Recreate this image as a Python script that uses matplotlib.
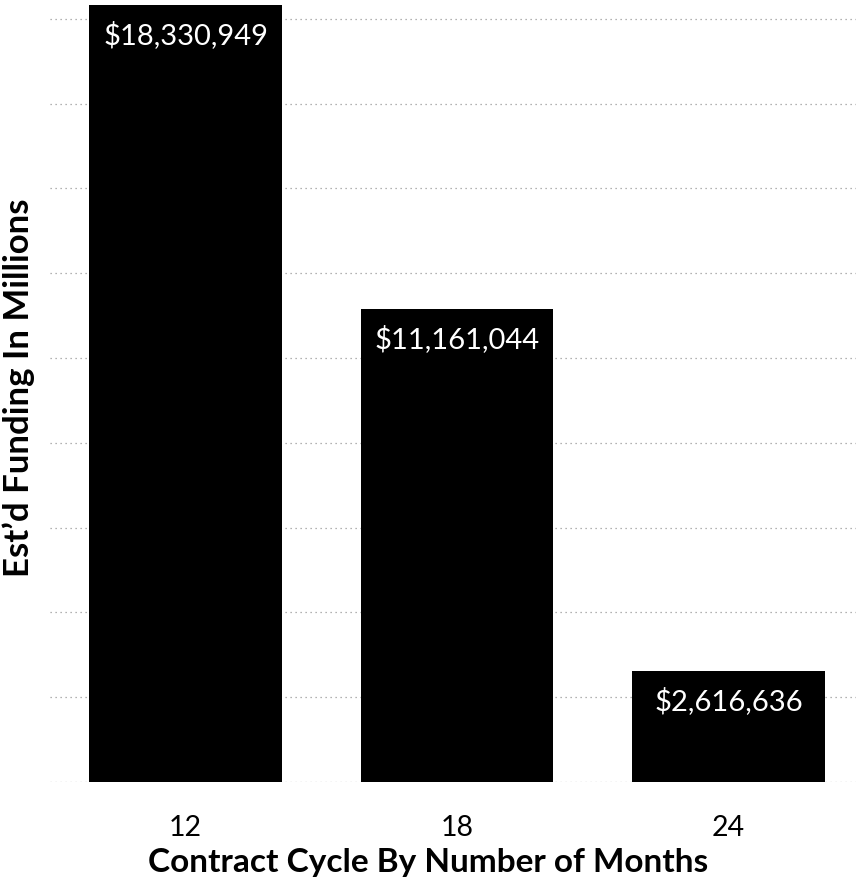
import matplotlib
matplotlib.use("Agg")
from matplotlib import pyplot as plt

months = ["12", "18", "24"]
funding = [18330949, 11161044, 2616636]
labels = ["$18,330,949", "$11,161,044", "$2,616,636"]

plt.rcParams['font.family'] = ['Lato', 'DejaVu Sans']

fig = plt.figure(figsize=(8.56, 8.87), dpi=100)
ax = fig.add_axes([50 / 856, 1 - 783 / 887, 806 / 856, 783 / 887])

x = range(len(months))
ax.bar(x, funding, width=0.71, color="black", zorder=2)

for i, v in enumerate(funding):
    ax.annotate(labels[i], (i, v), xytext=(0, -21), textcoords="offset points",
                ha="center", va="center", color="white", fontsize=21)

ax.set_xlim(-0.5, 2.47)
ax.set_ylim(0, 18.47e6)
ax.set_yticks([i * 2e6 for i in range(10)])
ax.set_yticklabels([])
ax.tick_params(axis="y", length=0)
ax.tick_params(axis="x", length=0, pad=23, labelsize=20.5)
ax.set_xticks(list(x))
ax.set_xticklabels(months)
ax.grid(axis="y", linestyle=(0, (1, 3)), color="#999999", linewidth=0.9, zorder=0)
for s in ax.spines.values():
    s.set_visible(False)

fig.text(428 / 856, 1 - 863 / 887, "Contract Cycle By Number of Months",
         ha="center", va="center", fontsize=24, fontweight="bold")
fig.text(19 / 856, 1 - 388 / 887, "Est\u2019d Funding In Millions",
         ha="center", va="center", rotation=90, fontsize=25, fontweight="bold")

fig.savefig("out.png", dpi=100)
